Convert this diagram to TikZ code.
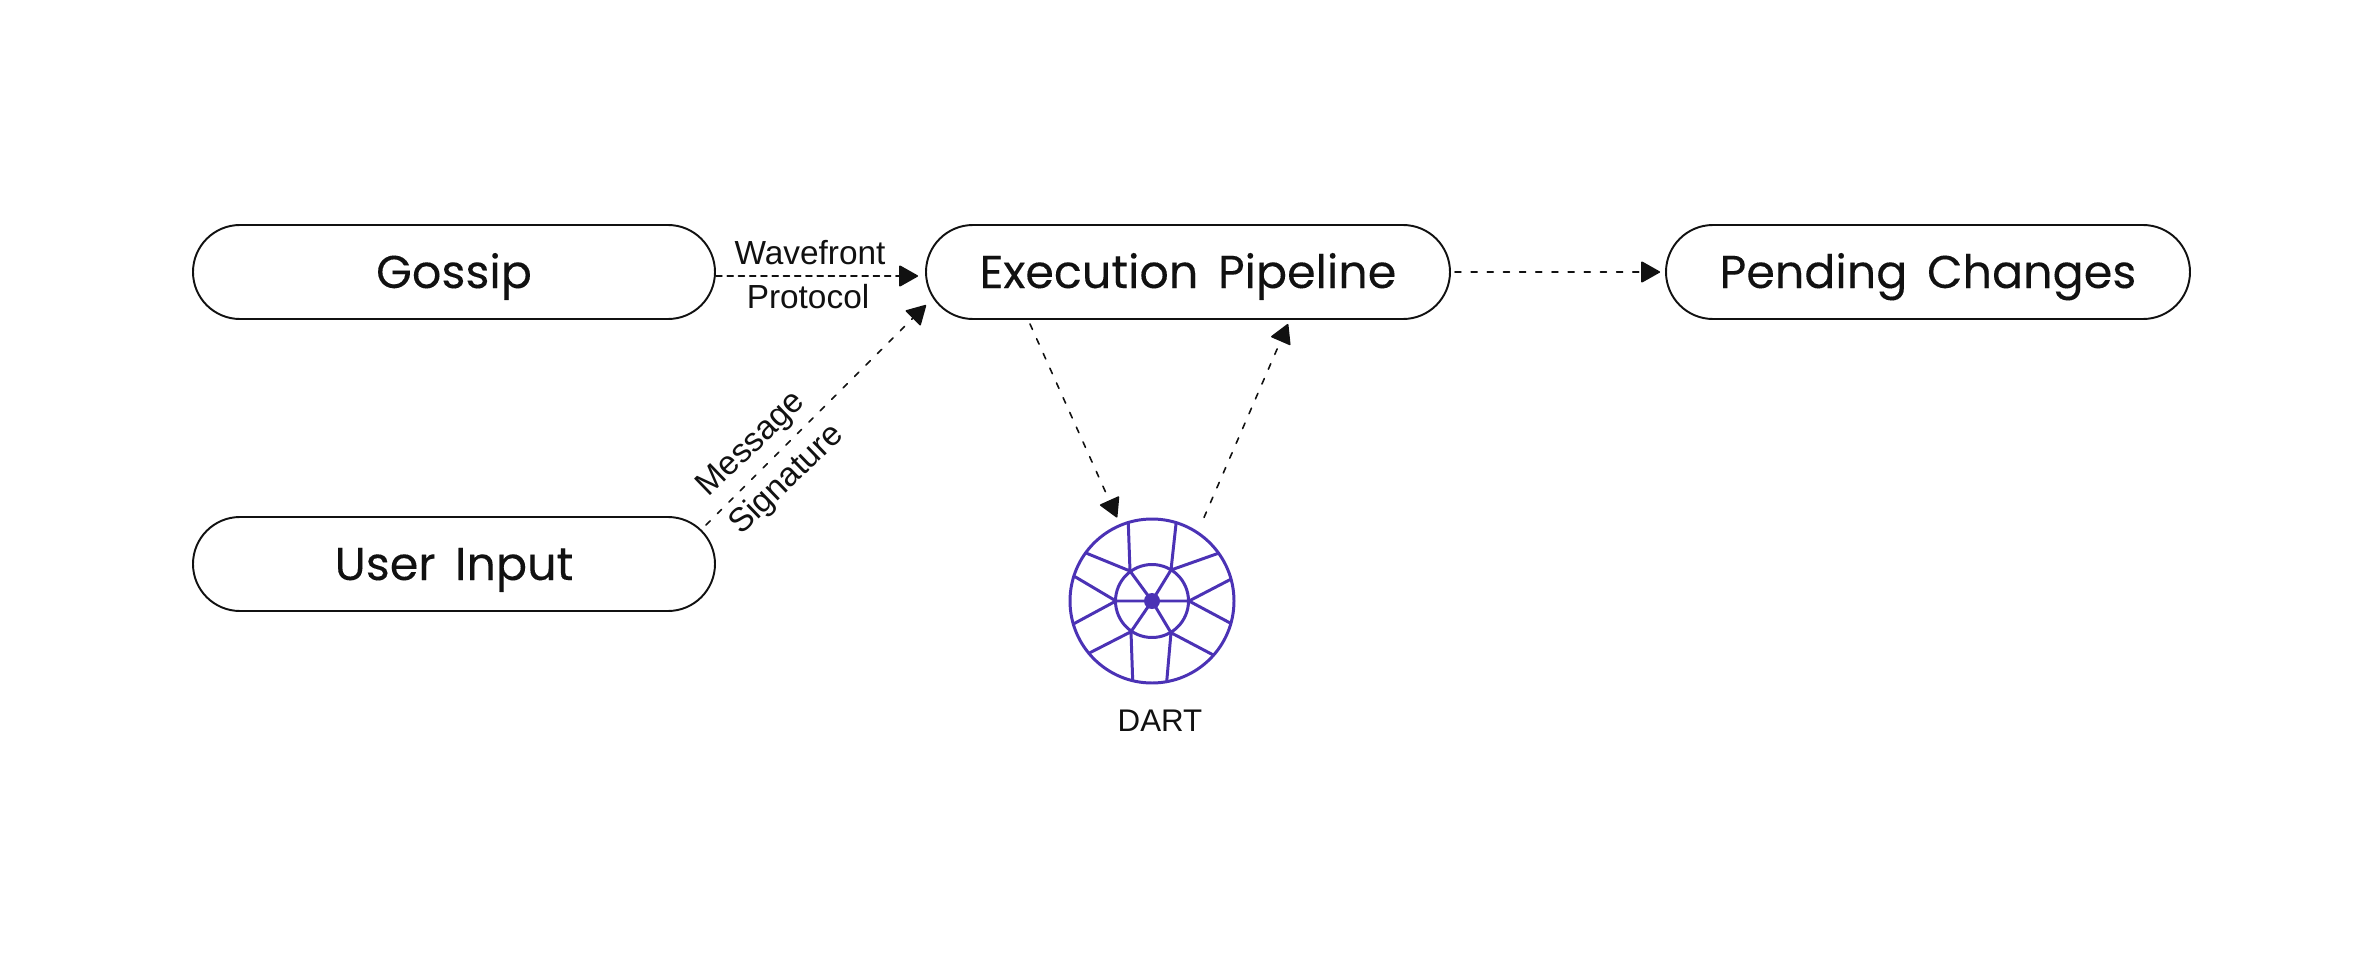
\documentclass[tikz,border=0pt]{standalone}
\usepackage{fontspec}
\setmainfont{Liberation Sans}
\newfontfamily\boxfont[WordSpace=1.6,FakeBold=0.15]{Poppins}
\usetikzlibrary{arrows.meta,calc}
\definecolor{ink}{HTML}{111111}
\definecolor{dartblue}{HTML}{4B32B5}
\tikzset{
  pill/.style={draw=ink,line width=0.55pt,rectangle,rounded corners=0.47cm,minimum width=5.24cm,minimum height=0.94cm,inner sep=0pt,text=ink,text height=0.32cm,text depth=0pt,font=\boxfont\fontsize{13.1}{16}\selectfont},
  tag/.style={text=ink,inner sep=0pt,font=\fontsize{9.5}{11}\selectfont},
  flow/.style={draw=ink,line width=0.45pt,dash pattern=on 1.7pt off 1.5pt,-{Triangle[length=5.6pt,width=6.2pt,round]}},
  flowlong/.style={flow,dash pattern=on 1.7pt off 2.9pt},
  spoke/.style={draw=dartblue,line width=0.85pt}
}
\begin{document}
\begin{tikzpicture}[line join=round,line cap=round]
\useasboundingbox (0,0) rectangle (23.8,9.6);
\node[pill,minimum width=5.22cm] (gossip) at (4.54,6.88) {Gossip};
\node[pill] (exec) at (11.88,6.88) {Execution Pipeline};
\node[pill] (pending) at (19.28,6.88) {Pending Changes};
\node[pill,minimum width=5.22cm] (user) at (4.54,3.96) {User Input};
\node[spoke,circle,minimum size=1.64cm,inner sep=0pt] (dart) at (11.52,3.59) {};
\node[tag,font=\fontsize{8.9}{11}\selectfont] (dartlabel) at (11.60,2.39) {DART};
\node[tag] (wave) at (8.10,7.07) {Wavefront};
\node[tag] (proto) at (8.08,6.63) {Protocol};
\node[tag,rotate=44] (msg) at (7.52,5.15) {Message};
\node[tag,rotate=44] (sig) at (7.87,4.80) {Signature};
\draw[flow] (gossip.east)++(0,-0.04) -- ([shift={(-0.07,-0.04)}]exec.west);
\draw[flowlong] ([shift={(-0.10,-0.09)}]user.north east) -- ([shift={(0.01,-0.81)}]exec.north west);
\draw[flowlong] ([shift={(-1.58,-0.04)}]exec.south) -- ([xshift=-0.35cm]dart.north);
\draw[flowlong] ([xshift=0.52cm]dart.north) -- ([shift={(1.00,-0.04)}]exec.south);
\draw[flowlong] ([xshift=0.04cm]exec.east) -- ([xshift=-0.05cm]pending.west);
% wheel
\begin{scope}[shift={(dart.center)}]
\draw[spoke] (0,0) circle (0.365);
\fill[dartblue] (0,0) circle (0.08);
\foreach \x/\y/\p/\q/\r/\s in {-.22/.30/-.237/.777/-.653/.477,.19/.31/.24/.77/.663/.477,.37/0/.787/.217/.787/-.223,.19/-.317/.613/-.54/.147/-.807,-.21/-.307/-.193/-.797/-.62/-.517,-.36/0/-.77/.243/-.787/-.23}{\draw[spoke] (0,0)--(\x,\y) (\p,\q)--(\x,\y)--(\r,\s);}
\end{scope}
\end{tikzpicture}
\end{document}
